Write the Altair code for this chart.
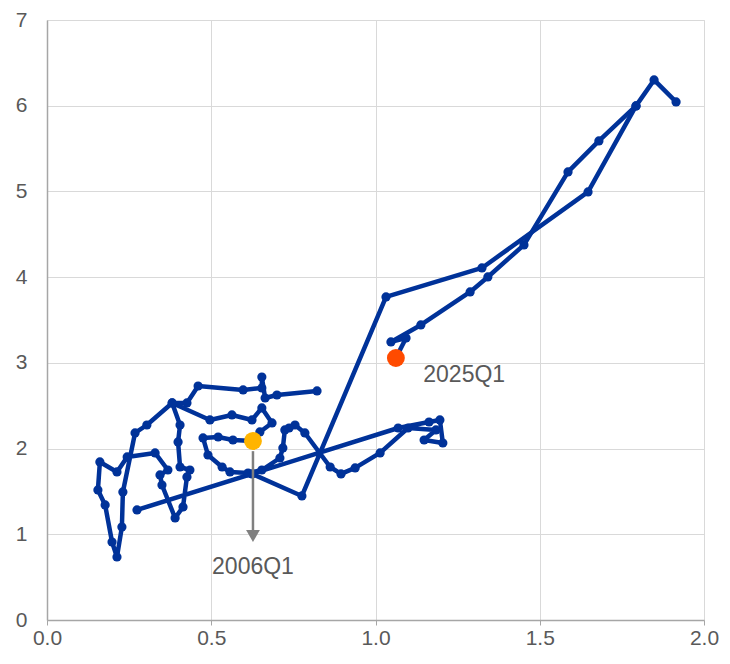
import altair as alt
import pandas as pd

# Path drawn up to the 2025Q1 end
seg_a_x = [1.915, 1.848, 1.793, 1.680, 1.586, 1.452, 1.342, 1.288, 1.138, 1.047, 1.093, 1.062]
seg_a_y = [6.044, 6.301, 5.998, 5.589, 5.228, 4.376, 4.002, 3.827, 3.442, 3.244, 3.290, 3.057]

# Remaining tangled path
seg_b_x = [1.793, 1.647, 1.324, 1.032, 0.776, 0.624, 0.274, 1.069, 1.163, 1.196, 1.205, 1.148,
           1.184, 1.099, 1.014, 0.938, 0.895, 0.862, 0.785, 0.755, 0.737, 0.724, 0.718, 0.709,
           0.654, 0.612, 0.557, 0.533, 0.490, 0.475, 0.521, 0.566, 0.627, 0.648, 0.685, 0.654,
           0.624, 0.563, 0.496, 0.381, 0.405, 0.399, 0.405, 0.435, 0.426, 0.414, 0.390, 0.350,
           0.344, 0.368, 0.329, 0.244, 0.213, 0.161, 0.155, 0.177, 0.198, 0.213, 0.228, 0.231,
           0.268, 0.304, 0.381, 0.426, 0.460, 0.597, 0.654, 0.654, 0.664, 0.700, 0.822]
seg_b_y = [5.998, 4.994, 4.107, 3.769, 1.447, 1.704, 1.284, 2.240, 2.310, 2.334, 2.065, 2.100,
           2.217, 2.240, 1.949, 1.774, 1.704, 1.785, 2.182, 2.275, 2.240, 2.217, 2.007, 1.890,
           1.750, 1.715, 1.727, 1.785, 1.925, 2.124, 2.135, 2.100, 2.089, 2.194, 2.299, 2.474,
           2.334, 2.392, 2.334, 2.532, 2.275, 2.077, 1.785, 1.750, 1.669, 1.319, 1.190, 1.575,
           1.692, 1.750, 1.949, 1.902, 1.727, 1.844, 1.517, 1.342, 0.910, 0.735, 1.085, 1.494,
           2.182, 2.275, 2.532, 2.532, 2.730, 2.684, 2.707, 2.835, 2.590, 2.625, 2.672]

# Highlighted quarters
hl_labels = ["2006Q1", "2025Q1"]
hl_x = [0.627, 1.062]
hl_y = [2.089, 3.057]
hl_colors = ["#FFB400", "#FF4B00"]

# Annotation text anchor points (data units)
lbl_x = [0.627, 1.27]
lbl_y = [0.62, 2.86]
arrow_x = [0.627]
arrow_y_top = [1.97]
arrow_y_bot = [1.02]
arrow_head_y = [0.98]

rows = []
for i, (x, y) in enumerate(zip(seg_a_x, seg_a_y)):
    rows.append({"seg": "a", "order": i, "x": x, "y": y})
for i, (x, y) in enumerate(zip(seg_b_x, seg_b_y)):
    rows.append({"seg": "b", "order": i, "x": x, "y": y})
df = pd.DataFrame(rows)

hl = pd.DataFrame({"label": hl_labels, "x": hl_x, "y": hl_y, "color": hl_colors})
lbl = pd.DataFrame({"label": hl_labels, "x": lbl_x, "y": lbl_y})
arr = pd.DataFrame({"x": arrow_x, "y": arrow_y_top, "y2": arrow_y_bot, "yh": arrow_head_y})

BLUE = "#003299"
xs = alt.Scale(domain=[0, 2], nice=False, zero=False)
ys = alt.Scale(domain=[0, 7], nice=False, zero=False)

xaxis = alt.Axis(values=[0, 0.5, 1.0, 1.5, 2.0], format=".1f", title=None,
                 grid=True, gridColor="#d9d9d9", domainColor="#a6a6a6", tickColor="#a6a6a6",
                 tickSize=5, labelPadding=2, labelFontSize=21, labelColor="#595959",
                 labelFont="Liberation Sans", domainWidth=1.5, labelFlush=False)
yaxis = alt.Axis(values=list(range(0, 8)), format="d", title=None,
                 grid=True, gridColor="#d9d9d9", domainColor="#a6a6a6",
                 ticks=False, tickSize=0, labelPadding=20, labelFontSize=21, labelColor="#595959",
                 labelFont="Liberation Sans", domainWidth=1.5, labelFlush=False)

line = alt.Chart(df).mark_line(color=BLUE, strokeWidth=4.5, strokeJoin="round").encode(
    x=alt.X("x:Q", scale=xs, axis=xaxis),
    y=alt.Y("y:Q", scale=ys, axis=yaxis),
    detail="seg:N",
    order="order:Q",
)
pts = alt.Chart(df).mark_circle(color=BLUE, size=85, opacity=1).encode(
    x=alt.X("x:Q", scale=xs), y=alt.Y("y:Q", scale=ys)
)
rule = alt.Chart(arr).mark_rule(color="#808080", strokeWidth=2.5).encode(
    x=alt.X("x:Q", scale=xs), y=alt.Y("y:Q", scale=ys), y2="y2:Q"
)
head = alt.Chart(arr).mark_point(shape="triangle-down", filled=True, color="#808080",
                                 size=190, opacity=1).encode(
    x=alt.X("x:Q", scale=xs), y=alt.Y("yh:Q", scale=ys)
)
hlp = alt.Chart(hl).mark_circle(size=320, opacity=1).encode(
    x=alt.X("x:Q", scale=xs), y=alt.Y("y:Q", scale=ys),
    color=alt.Color("color:N", scale=None, legend=None),
)
txt = alt.Chart(lbl).mark_text(fontSize=23, color="#595959", font="Liberation Sans").encode(
    x=alt.X("x:Q", scale=xs), y=alt.Y("y:Q", scale=ys), text="label:N"
)

chart = alt.layer(line, pts, rule, head, hlp, txt).properties(
    width=657, height=600, autosize="none",
    padding={"left": 39, "top": 12, "right": 18, "bottom": 36},
).configure_view(stroke=None).configure(background="white")

chart.save("out.html", embed_options={"renderer": "svg", "actions": False})
